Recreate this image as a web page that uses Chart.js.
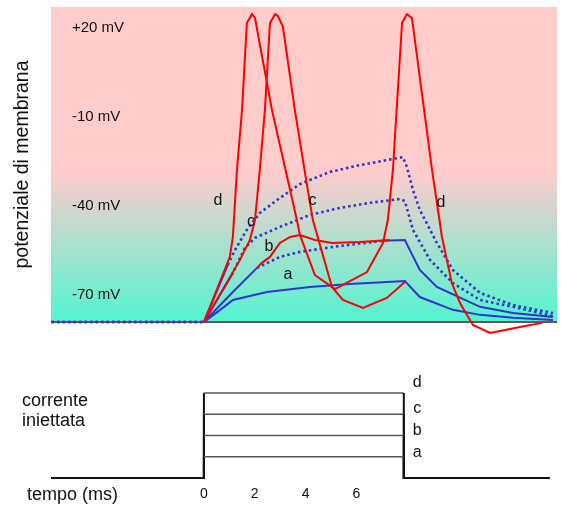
<!DOCTYPE html>
<html lang="it">
<head>
<meta charset="UTF-8">
<title>Potenziale di membrana e corrente iniettata</title>
<script src="https://cdn.jsdelivr.net/npm/chart.js"></script>
<style>
  body { margin: 0; background: #fff; font-family: "Liberation Sans", Arial, sans-serif; }
  #wrap { position: relative; width: 561px; height: 506px; }
  #top, #bottom { position: absolute; left: 0; display: block; }
  #top { top: 0; }
  #bottom { top: 340px; }
  .note { position: absolute; font-size: 18px; line-height: 20px; color: #111; }
</style>
</head>
<body>
<div id="wrap">
  <canvas id="top" width="561" height="340"></canvas>
  <canvas id="bottom" width="561" height="166"></canvas>
  <div class="note" style="left:22px; top:390px;">corrente<br>iniettata</div>
  <div class="note" style="left:27px; top:484px;">tempo (ms)</div>
</div>
<script>
// time axis (ms), shared by both panels
const timeMin = -6.02, timeMax = 13.9;
const timeTicks = [0, 2, 4, 6];

// membrane potential axis (mV)
const mvMin = -79, mvMax = 27;
const mvTicks = [20, -10, -40, -70];
const pinkUntil = -28;

// blue traces (passive response)
const tA = [0, 0.63, 1.14, 2.48, 4.17, 5.75, 7.91, 8.5, 9.8, 10.87, 12.17, 13.74];
const blueA = [-79, -75, -71.6, -68.9, -67.2, -66.2, -65.2, -70.6, -74.9, -76.6, -77.6, -78.3];

const tB = [0, 1.14, 2.09, 2.99, 3.78, 5.35, 7.05, 7.91, 8.5, 9.17, 10.87, 12.17, 13.74];
const blueB = [-79, -68.9, -60.8, -57.1, -55.4, -53.4, -51.7, -51.4, -61.5, -67.2, -73.9, -76.0, -77.3];

const tC = [-6, 0, 1.10, 1.61, 2.01, 2.99, 4.17, 5.35, 6.54, 7.72, 7.91, 8.23, 8.90, 9.80, 10.87, 12.17, 13.74];
const blueC = [-79, -79, -63.2, -54.1, -50.7, -47.0, -43.0, -40.6, -38.9, -37.6, -38.3, -48.0, -58.1, -65.9, -71.6, -73.9, -77.0];

const tD = [-6, 0, 0.94, 1.22, 1.69, 2.20, 2.99, 3.78, 4.96, 6.14, 7.83, 7.99, 8.23, 8.50, 9.17, 9.80, 10.87, 12.17, 13.74];
const blueD = [-79, -79, -59.8, -54.8, -48.0, -42.3, -37.3, -32.6, -28.5, -26.2, -23.5, -26.8, -34.6, -41.3, -52.4, -61.5, -69.2, -73.3, -76.0];

// red traces (action potentials)
const tRD = [0, 1.02, 1.14, 1.30, 1.50, 1.69, 1.89, 2.01, 2.68, 3.66, 3.78, 4.37, 5.16, 5.47, 6.42, 7.05, 7.24, 7.44, 7.80, 7.99, 8.19, 8.98, 9.37, 9.76, 10.08, 10.59, 11.26, 12.44, 13.31];
const redD = [-79, -57.1, -50.4, -27.8, -7.7, 21.6, 24.6, 23.3, -7.7, -44.7, -49.7, -63.2, -67.9, -66.5, -62.2, -52.4, -44.7, -27.8, 21.6, 24.6, 23.3, -27.8, -50.4, -65.9, -72.6, -80.0, -82.7, -80.7, -79.3];

const tRC = [0, 1.42, 1.81, 2.01, 2.20, 2.40, 2.60, 2.80, 2.91, 3.11, 3.58, 4.09, 4.29, 5.04, 5.47, 6.26, 7.20, 7.91];
const redC = [-79, -58.1, -51.4, -44.7, -27.8, -7.7, 21.6, 24.6, 24.0, 20.3, -7.7, -34.6, -44.7, -67.2, -71.6, -74.3, -70.9, -65.5];

const tRB = [2.09, 2.28, 2.60, 2.99, 3.39, 3.78, 4.37, 5.04, 6.14, 7.32];
const redB = [-60.8, -59.1, -57.1, -52.4, -50.4, -49.7, -51.4, -52.4, -52.1, -51.4];

// trace letters in the upper panel
const traceLetters = ['d', 'c', 'b', 'a', 'c', 'd'];
const traceLetterT = [0.55, 1.85, 2.56, 3.31, 4.27, 9.33];
const traceLetterV = [-38.1, -45.2, -53.7, -63.1, -38.2, -38.8];

// injected current steps
const stepStart = 0, stepEnd = 7.87, baseEnd = 13.6;
const stepLevels = [1, 2, 3, 4];
const stepLetters = ['a', 'b', 'c', 'd'];
const stepLetterT = [8.4, 8.4, 8.4, 8.4];
const stepLetterY = [1.19, 2.24, 3.27, 4.5];

const FONT = '"Liberation Sans", Arial, sans-serif';
const RED = '#ff0000';
const BLUE = '#3434cc';

function pts(t, v) {
  return t.map((x, i) => ({ x: x, y: v[i] }));
}

// dotted between two times, solid elsewhere
function dotted(from, to) {
  return {
    borderDash: c => (c.p0.parsed.x >= from && c.p1.parsed.x <= to) ? [2.5, 3] : undefined,
    borderWidth: c => (c.p0.parsed.x >= from && c.p1.parsed.x <= to) ? 2.6 : undefined
  };
}

function letters(id, texts, xs, ys) {
  return {
    id: id,
    afterDatasetsDraw(chart) {
      const { ctx, scales: { x, y } } = chart;
      ctx.save();
      ctx.font = '16px ' + FONT;
      ctx.fillStyle = '#111';
      ctx.textAlign = 'center';
      ctx.textBaseline = 'middle';
      texts.forEach((s, i) => ctx.fillText(s, x.getPixelForValue(xs[i]), y.getPixelForValue(ys[i])));
      ctx.restore();
    }
  };
}

const background = {
  id: 'background',
  beforeDraw(chart) {
    const { ctx, chartArea: a, scales: { y } } = chart;
    const yp = y.getPixelForValue(pinkUntil);
    const g = ctx.createLinearGradient(0, a.top, 0, a.bottom);
    g.addColorStop(0, '#ffcccc');
    g.addColorStop((yp - a.top) / a.height, '#ffcccc');
    g.addColorStop(1, 'rgb(82,245,208)');
    ctx.save();
    ctx.fillStyle = g;
    ctx.fillRect(a.left, a.top, a.width, a.height);
    ctx.strokeStyle = '#5a5a5a';
    ctx.lineWidth = 2;
    ctx.beginPath();
    ctx.moveTo(a.left, a.bottom);
    ctx.lineTo(a.right, a.bottom);
    ctx.stroke();
    ctx.restore();
  }
};

function line(label, data, color, width, extra) {
  return Object.assign({
    label: label,
    data: data,
    borderColor: color,
    borderWidth: width,
    pointRadius: 0,
    tension: 0,
    fill: false,
    clip: false
  }, extra || {});
}

new Chart(document.getElementById('top'), {
  type: 'line',
  data: {
    datasets: [
      line('d (rosso)', pts(tRD, redD), RED, 2),
      line('c (rosso)', pts(tRC, redC), RED, 2),
      line('b (rosso)', pts(tRB, redB), RED, 2),
      line('a', pts(tA, blueA), BLUE, 2),
      line('b', pts(tB, blueB), BLUE, 2, { segment: dotted(2.0, 7.1) }),
      line('c', pts(tC, blueC), BLUE, 2.6, { borderDash: [2.5, 3], segment: { borderDash: c => c.p0.parsed.x === 0 ? [] : undefined, borderWidth: c => c.p0.parsed.x === 0 ? 2 : undefined } }),
      line('d', pts(tD, blueD), BLUE, 2.6, { borderDash: [2.5, 3], segment: { borderDash: c => c.p0.parsed.x === 0 ? [] : undefined, borderWidth: c => c.p0.parsed.x === 0 ? 2 : undefined } })
    ]
  },
  options: {
    responsive: false,
    animation: false,
    layout: { padding: { top: 7, right: 4, bottom: 18, left: 0 } },
    plugins: { legend: { display: false }, tooltip: { enabled: false } },
    scales: {
      x: { type: 'linear', min: timeMin, max: timeMax, display: false },
      y: {
        type: 'linear',
        min: mvMin,
        max: mvMax,
        afterFit: s => { s.width = 51; s.paddingTop = 0; s.paddingBottom = 0; },
        afterBuildTicks: s => { s.ticks = mvTicks.map(v => ({ value: v })); },
        grid: { display: false, drawTicks: false },
        border: { display: false },
        ticks: {
          mirror: true,
          padding: 21,
          color: '#111',
          font: { family: FONT, size: 15 },
          callback: v => (v > 0 ? '+' : '') + v + ' mV'
        },
        title: {
          display: true,
          text: 'potenziale di membrana',
          color: '#111',
          font: { family: FONT, size: 19.5 },
          padding: { top: 11, bottom: 0 }
        }
      }
    }
  },
  plugins: [background, letters('traceLetters', traceLetters, traceLetterT, traceLetterV)]
});

// one step per current level
const stepSets = stepLevels.map((lv, i) => line(stepLetters[i],
  [{ x: timeMin, y: 0 }, { x: stepStart, y: 0 }, { x: stepStart, y: lv }, { x: stepEnd, y: lv }, { x: stepEnd, y: 0 }, { x: baseEnd, y: 0 }],
  '#111', 2, {
    segment: {
      borderColor: c => (c.p0.parsed.y === c.p1.parsed.y && c.p0.parsed.y > 0) ? '#555' : undefined,
      borderWidth: c => (c.p0.parsed.y === c.p1.parsed.y && c.p0.parsed.y > 0) ? 1.5 : undefined
    }
  }));

new Chart(document.getElementById('bottom'), {
  type: 'line',
  data: { datasets: stepSets },
  options: {
    responsive: false,
    animation: false,
    layout: { padding: { top: 40.25, right: 4, bottom: 0, left: 51 } },
    plugins: { legend: { display: false }, tooltip: { enabled: false } },
    scales: {
      x: {
        type: 'linear',
        min: timeMin,
        max: timeMax,
        afterFit: s => { s.height = 28; },
        afterBuildTicks: s => { s.ticks = timeTicks.map(v => ({ value: v })); },
        grid: { display: false, drawTicks: false },
        border: { display: false },
        ticks: { autoSkip: false, maxRotation: 0, padding: 8, color: '#111', font: { family: FONT, size: 14 } }
      },
      y: { type: 'linear', min: 0, max: 4.6, display: false }
    }
  },
  plugins: [letters('stepLetters', stepLetters, stepLetterT, stepLetterY)]
});
</script>
</body>
</html>
